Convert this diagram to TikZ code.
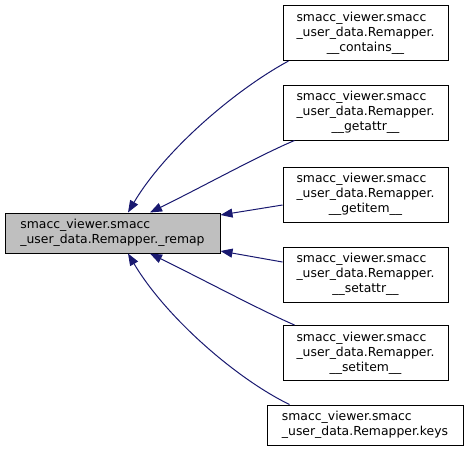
\documentclass[tikz,border=0pt]{standalone}
\usepackage{fontspec}
\setmainfont{DejaVu Sans}
\usepackage{tikz}
\usetikzlibrary{positioning,arrows.meta}
\definecolor{edgeblue}{RGB}{25,25,112}
\definecolor{cellgray}{RGB}{191,191,191}

\tikzset{
  fnbox/.style={rectangle,draw=black,line width=1pt,fill=white,inner sep=0pt,
    font=\fontsize{12.4}{15}\selectfont,minimum width=165pt,minimum height=55pt},
  callee/.style={fnbox,fill=cellgray,minimum width=215pt,minimum height=40pt},
  calledge/.style={draw=edgeblue,line width=1pt,{Triangle[length=12pt,width=9pt]}-}
}
% two left lines, last line centred (doxygen layout)
\newcommand{\fnlbl}[3]{\begin{tabular}{@{}l@{}}#1\\#2\\\multicolumn{1}{@{}c@{}}{#3}\end{tabular}}
\newcommand{\fnlblb}[2]{\begin{tabular}{@{}l@{}}#1\\#2\end{tabular}}

\begin{document}
\begin{tikzpicture}[x=1pt,y=-1pt]
\useasboundingbox (0,0) rectangle (468,451);

\node[callee] (remap) at (112.5,233) {\fnlblb{smacc\_viewer.smacc}{\_user\_data.Remapper.\_remap}};

\node[fnbox] (contains) at (365.5,33)    {\fnlbl{smacc\_viewer.smacc}{\_user\_data.Remapper.}{\_\_contains\_\_}};
\node[fnbox] (getattr)  at (365.5,112.5) {\fnlbl{smacc\_viewer.smacc}{\_user\_data.Remapper.}{\_\_getattr\_\_}};
\node[fnbox] (getitem)  at (365.5,194.5) {\fnlbl{smacc\_viewer.smacc}{\_user\_data.Remapper.}{\_\_getitem\_\_}};
\node[fnbox] (setattr)  at (365.5,274.5) {\fnlbl{smacc\_viewer.smacc}{\_user\_data.Remapper.}{\_\_setattr\_\_}};
\node[fnbox] (setitem)  at (365.5,353)   {\fnlbl{smacc\_viewer.smacc}{\_user\_data.Remapper.}{\_\_setitem\_\_}};
\node[fnbox,minimum width=196pt,minimum height=40pt] (keys) at (365,425)
  {\fnlblb{smacc\_viewer.smacc}{\_user\_data.Remapper.keys}};

% callers -> remap
\draw[calledge] ([xshift=15.5pt]remap.north) .. controls (165,150) and (235,90) .. ([xshift=6pt]contains.south west);
\draw[calledge] ([xshift=37.5pt]remap.north) .. controls (200,188) and (260,155) .. ([xshift=12pt]getattr.south west);
\draw[calledge] ([yshift=18pt]remap.east) -- ([yshift=-10.5pt]getitem.west);
\draw[calledge] ([yshift=-18pt]remap.east) -- ([yshift=12.5pt]setattr.west);
\draw[calledge] ([xshift=37.5pt]remap.south) .. controls (200,278) and (260,310) .. ([xshift=12pt]setitem.north west);
\draw[calledge] ([xshift=15.5pt]remap.south) .. controls (165,316) and (235,378) .. ([xshift=23pt]keys.north west);
\end{tikzpicture}
\end{document}
